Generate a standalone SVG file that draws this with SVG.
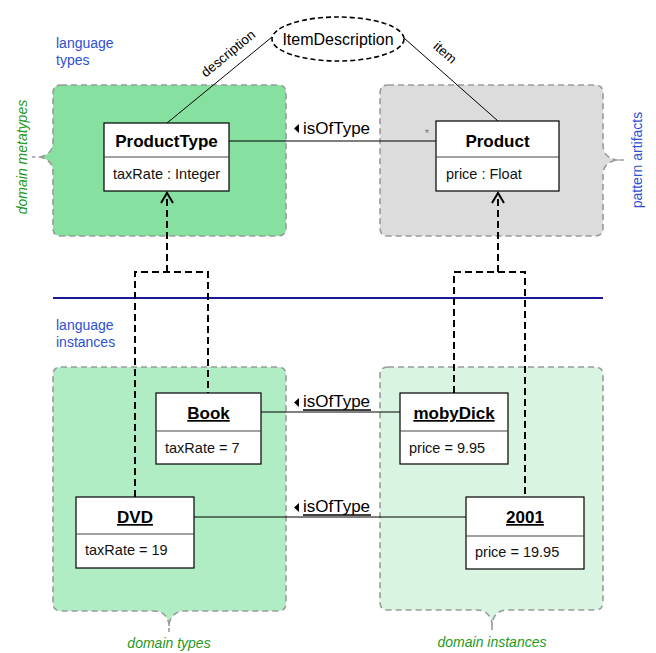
<svg xmlns="http://www.w3.org/2000/svg" width="656" height="653" viewBox="0 0 656 653">
<style>
text{font-family:"Liberation Sans",Arial,sans-serif;}
.region{stroke:#9a9a9a;stroke-width:1.6;stroke-dasharray:6,4;}
.box{fill:#fff;stroke:#000;stroke-width:1.2;}
.div{stroke:#444;stroke-width:1.2;}
.title{font-size:17px;font-weight:bold;text-anchor:middle;fill:#000;}
.attr{font-size:14.5px;fill:#111;}
.assoc{stroke:#000;stroke-width:1;fill:none;}
.dep{stroke:#000;stroke-width:2;fill:none;stroke-dasharray:7,4;}
.lbl{font-size:17px;fill:#000;}
.blue{font-size:14px;fill:#2e4fd6;}
.green{font-size:14px;fill:#1e9a1e;font-style:italic;}
.small{font-size:13.5px;fill:#000;}
</style>
<defs>
<marker id="open" markerWidth="16" markerHeight="16" refX="13" refY="8" orient="auto" markerUnits="userSpaceOnUse" viewBox="0 0 16 16">
<path d="M3,2 L13,8 L3,14" fill="none" stroke="#000" stroke-width="2"/>
</marker>
</defs>

<!-- regions -->
<g id="region-metatypes">
<path class="region" fill="#86e0a0" d="M61,85 H278 Q286,85 286,93 V228 Q286,236 278,236 H61 Q53,236 53,228 V172 Q53,160 40,157 L32,157 L40,157 Q53,154 53,142 V93 Q53,85 61,85 Z"/>
</g>
<g id="region-artifacts">
<path class="region" fill="#dcdcdc" d="M388,85 H595 Q603,85 603,93 V145 Q603,157 616,160 L624,160 L616,160 Q603,163 603,175 V228 Q603,236 595,236 H388 Q380,236 380,228 V93 Q380,85 388,85 Z"/>
</g>
<g id="region-types">
<path class="region" fill="#b0ecc4" d="M61,367 H278 Q286,367 286,375 V603 Q286,611 278,611 H184 Q172,611 169,624 L169,632 L169,624 Q166,611 154,611 H61 Q53,611 53,603 V375 Q53,367 61,367 Z"/>
</g>
<g id="region-instances">
<path class="region" fill="#d9f5e2" d="M388,367 H595 Q603,367 603,375 V602 Q603,610 595,610 H507 Q495,610 492,623 L492,630 L492,623 Q489,610 477,610 H388 Q380,610 380,602 V375 Q380,367 388,367 Z"/>
</g>

<!-- labels -->
<g id="labels">
<text class="blue" x="56" y="48">language</text>
<text class="blue" x="56" y="65">types</text>
<text class="blue" x="56" y="330">language</text>
<text class="blue" x="56" y="347">instances</text>
<text class="green" transform="translate(27,157) rotate(-90)" text-anchor="middle">domain metatypes</text>
<text class="blue" transform="translate(642,160) rotate(-90)" text-anchor="middle">pattern artifacts</text>
<text class="green" x="169" y="648" text-anchor="middle">domain types</text>
<text class="green" x="492" y="647" text-anchor="middle">domain instances</text>
</g>

<line x1="53" y1="298" x2="603" y2="298" stroke="#1a1a99" stroke-width="2"/>

<!-- connectors -->
<g id="connectors">
<line class="assoc" x1="167" y1="123" x2="272" y2="37"/>
<line class="assoc" x1="404" y1="38" x2="498" y2="121"/>
<text class="small" transform="translate(231,57) rotate(-39.5)" text-anchor="middle">description</text>
<text class="small" transform="translate(442,56) rotate(41.5)" text-anchor="middle">item</text>

<line class="assoc" x1="229" y1="141" x2="436" y2="141"/>
<path d="M299,124 L294,128.5 L299,133 Z" fill="#000"/>
<text class="lbl" x="303" y="134">isOfType</text>
<text x="427" y="137" font-size="11" fill="#777" text-anchor="middle">*</text>

<line class="assoc" x1="261" y1="412" x2="400" y2="412"/>
<path d="M299,398 L294,402.5 L299,407 Z" fill="#000"/>
<text class="lbl" x="303" y="407">isOfType</text>
<line x1="303" y1="410" x2="371" y2="410" stroke="#000" stroke-width="1.3"/>

<line class="assoc" x1="194" y1="517" x2="466" y2="517"/>
<path d="M299,503 L294,507.5 L299,512 Z" fill="#000"/>
<text class="lbl" x="303" y="512">isOfType</text>
<line x1="303" y1="515" x2="371" y2="515" stroke="#000" stroke-width="1.3"/>

<path class="dep" d="M167,272 V193" marker-end="url(#open)"/>
<path class="dep" d="M135,497 V272 H208 V393"/>
<path class="dep" d="M498,272 V193" marker-end="url(#open)"/>
<path class="dep" d="M454,393 V272 H525 V497"/>
</g>

<!-- nodes -->
<g id="ItemDescription">
<ellipse cx="338" cy="39" rx="66" ry="22" fill="#fff" stroke="#000" stroke-width="1.6" stroke-dasharray="5,3"/>
<text x="338" y="45" font-size="16" text-anchor="middle" fill="#000">ItemDescription</text>
</g>
<g id="ProductType">
<rect class="box" x="104" y="123" width="125" height="68"/>
<line class="div" x1="104" y1="157" x2="229" y2="157"/>
<text class="title" x="166.5" y="147">ProductType</text>
<text class="attr" x="113" y="179">taxRate : Integer</text>
</g>
<g id="Product">
<rect class="box" x="436" y="121" width="123" height="70"/>
<line class="div" x1="436" y1="157" x2="559" y2="157"/>
<text class="title" x="497.5" y="147">Product</text>
<text class="attr" x="446" y="179">price : Float</text>
</g>
<g id="Book">
<rect class="box" x="156" y="393" width="105" height="71"/>
<line class="div" x1="156" y1="431" x2="261" y2="431"/>
<text class="title" x="208.5" y="419" text-decoration="underline">Book</text>
<text class="attr" x="165" y="453">taxRate = 7</text>
</g>
<g id="mobyDick">
<rect class="box" x="400" y="393" width="108" height="71"/>
<line class="div" x1="400" y1="431" x2="508" y2="431"/>
<text class="title" x="454" y="419" text-decoration="underline">mobyDick</text>
<text class="attr" x="409" y="453">price = 9.95</text>
</g>
<g id="DVD">
<rect class="box" x="76" y="497" width="118" height="71"/>
<line class="div" x1="76" y1="534" x2="194" y2="534"/>
<text class="title" x="135" y="523" text-decoration="underline">DVD</text>
<text class="attr" x="85" y="555">taxRate = 19</text>
</g>
<g id="n2001">
<rect class="box" x="466" y="497" width="118" height="72"/>
<line class="div" x1="466" y1="536" x2="584" y2="536"/>
<text class="title" x="525" y="523" text-decoration="underline">2001</text>
<text class="attr" x="475" y="557">price = 19.95</text>
</g>
</svg>
